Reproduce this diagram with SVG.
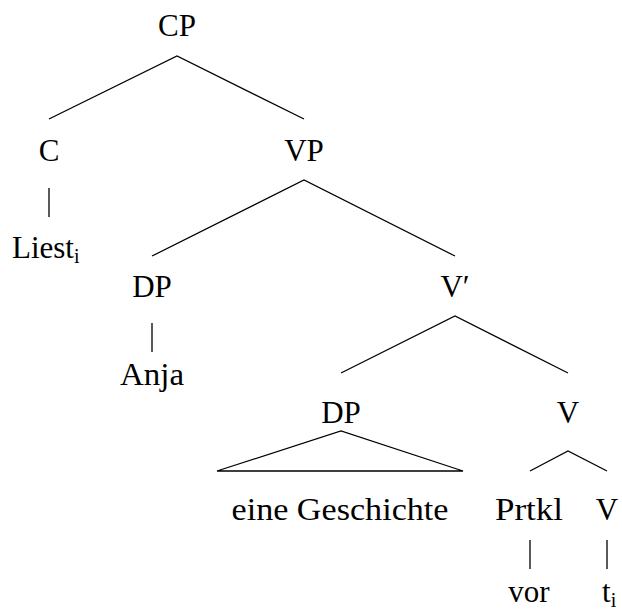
<svg xmlns="http://www.w3.org/2000/svg" width="622" height="614" viewBox="0 0 622 614">
  <style>
    text { font-family: "Liberation Serif", "DejaVu Serif", serif; font-size: 31px; fill: #000; text-anchor: middle; }
    .sub { font-size: 20px; }
    .edge { stroke: #000; stroke-width: 1.3; fill: none; }
  </style>
  <rect width="622" height="614" fill="#fff"/>

  <g id="connectors">
    <polyline class="edge" points="49,119 177,56 304,119"/>
    <line class="edge" x1="49" y1="188" x2="49" y2="217"/>
    <polyline class="edge" points="152,256 304,180 455,256"/>
    <line class="edge" x1="152" y1="323" x2="152" y2="352"/>
    <polyline class="edge" points="341,373 455,316 568,373"/>
    <polygon class="edge" points="217,471 341,431 463,471"/>
    <polyline class="edge" points="530,471 568,451 607,471"/>
    <line class="edge" x1="530" y1="540" x2="530" y2="569"/>
    <line class="edge" x1="607" y1="540" x2="607" y2="569"/>
  </g>

  <g id="cp"><text x="177" y="36">CP</text></g>
  <g id="c"><text x="49" y="161">C</text></g>
  <g id="liest"><text x="12" y="258" style="text-anchor:start">Liest<tspan class="sub" dy="5">i</tspan></text></g>
  <g id="vp"><text x="304" y="161">VP</text></g>
  <g id="dp1"><text x="152" y="297">DP</text></g>
  <g id="anja"><text x="152" y="385" textLength="64" lengthAdjust="spacingAndGlyphs">Anja</text></g>
  <g id="vbar"><text x="455" y="297">V′</text></g>
  <g id="dp2"><text x="341" y="423">DP</text></g>
  <g id="eine-geschichte"><text x="340" y="520" textLength="217" lengthAdjust="spacingAndGlyphs">eine Geschichte</text></g>
  <g id="v"><text x="568" y="423">V</text></g>
  <g id="prtkl"><text x="529" y="520" textLength="68" lengthAdjust="spacingAndGlyphs">Prtkl</text></g>
  <g id="v0"><text x="607" y="520">V</text></g>
  <g id="vor"><text x="529" y="602">vor</text></g>
  <g id="trace"><text x="602" y="602" style="text-anchor:start">t<tspan class="sub" dy="5">i</tspan></text></g>
</svg>
